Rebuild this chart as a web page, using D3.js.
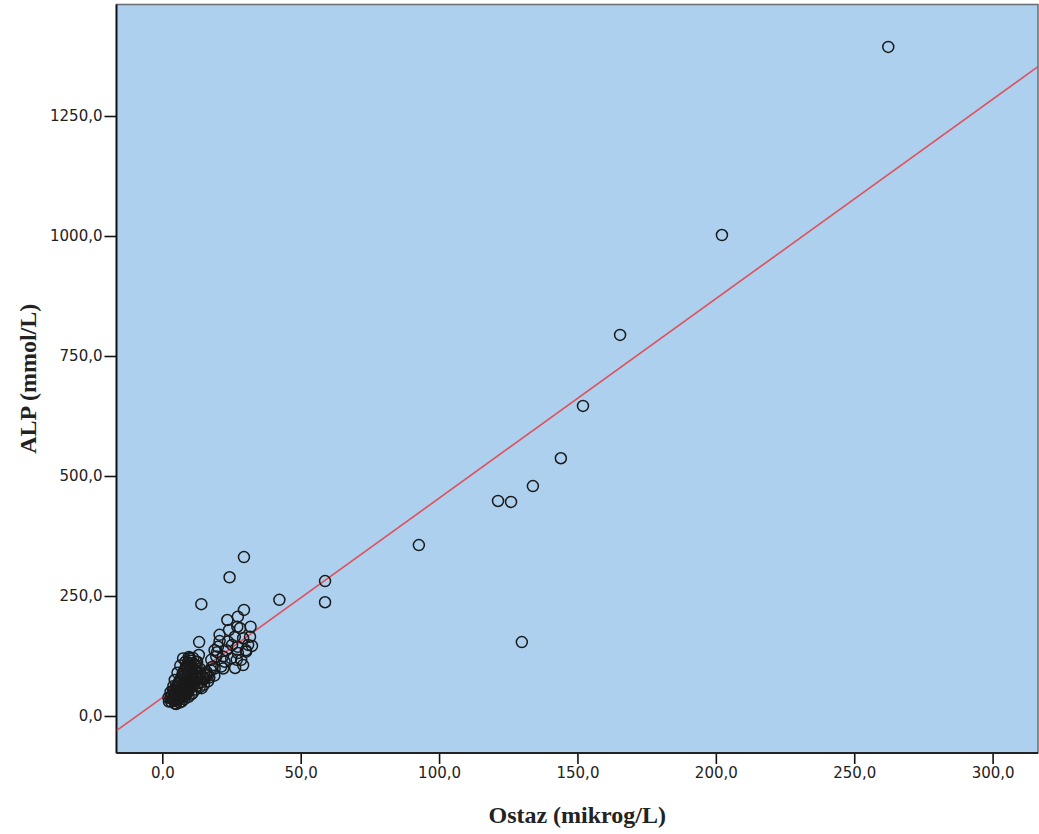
<!DOCTYPE html>
<html>
<head>
<meta charset="utf-8">
<script src="https://cdn.jsdelivr.net/npm/d3@7"></script>
<style>
  html, body { margin: 0; padding: 0; background: #ffffff; }
  svg { display: block; }
</style>
</head>
<body>
<svg id="chart" width="1039" height="834"></svg>
<script>
// Ostaz (µg/L) against ALP (mmol/L), one circle per sample
const ostaz = [
  // isolated high values
  262.3, 202.2, 165.4, 152.0, 144.0, 133.9, 121.3, 126.0, 92.7, 129.9,
  58.8, 58.8, 42.3, 29.5, 24.3, 14.1,
  // second group, roughly 18-32
  29.5, 27.3, 23.5, 31.9, 27.1, 20.7, 26.2, 29.2, 23.7, 20.7,
  31.0, 20.1, 27.3, 18.9, 30.3, 27.3, 23.1, 24.9, 21.9, 21.3,
  18.9, 22.5, 28.5, 19.5, 17.7, 31.7, 30.2, 26.9, 22.0, 25.2,
  28.1, 24.1, 19.8, 26.3, 29.2, 16.5, 32.4,
  // dense low group
  3.2, 3.8, 4.5, 5.2, 6.0, 4.1, 3.5, 5.0, 6.3, 7.1,
  4.4, 5.6, 6.8, 7.5, 8.2, 3.9, 5.1, 6.2, 7.3, 8.6,
  4.8, 5.9, 6.7, 7.8, 9.0, 5.5, 6.5, 7.4, 8.3, 9.5,
  6.1, 7.0, 7.9, 8.9, 10.1, 6.8, 7.7, 8.5, 9.6, 10.8,
  7.3, 8.2, 9.1, 10.2, 11.4, 8.0, 9.0, 9.8, 10.9, 12.0,
  8.6, 9.6, 10.5, 11.6, 12.7, 9.3, 10.4, 11.3, 12.4, 13.5,
  10.0, 11.1, 12.2, 13.2, 9.6, 12.6, 8.4, 13.3, 13.8, 14.6,
  15.8, 16.2, 17.5, 18.0, 11.8, 10.6, 9.4, 12.9, 13.6, 14.9,
  5.7, 4.2, 7.9, 6.4, 8.8, 9.9, 10.7, 11.9, 7.6, 5.3,
  2.4, 4.6, 3.0, 6.9, 10.0,
  12.0, 13.5, 15.0, 16.5, 14.0, 11.0, 9.5, 8.0, 7.0, 10.5,
  12.5, 15.5, 17.0, 16.0, 14.2, 4.5, 5.5, 6.5, 7.5, 4.0,
  3.0, 2.2, 18.8, 13.0, 11.5, 8.8, 6.2, 5.0, 9.2, 10.8
];
const alp = [
  1394, 1002, 794, 646, 537, 479, 448, 446, 356, 154,
  281, 237, 242, 331, 289, 233,
  221, 207, 200, 186, 186, 169, 165, 162, 155, 156,
  148, 144, 144, 137, 134, 131, 137, 120, 124, 103,
  99, 113, 117, 124, 117, 165, 137, 117, 99, 148,
  183, 179, 133, 100, 106, 85, 146,
  30, 34, 31, 33, 36, 40, 44, 42, 40, 38,
  48, 47, 45, 44, 42, 52, 55, 52, 50, 48,
  60, 62, 58, 56, 54, 66, 68, 64, 61, 59,
  72, 75, 70, 67, 64, 80, 83, 78, 74, 70,
  88, 92, 86, 82, 78, 96, 100, 94, 90, 85,
  104, 108, 102, 97, 92, 112, 115, 108, 104, 99,
  119, 121, 113, 127, 123, 113, 113, 154, 88, 82,
  86, 89, 95, 102, 72, 60, 50, 68, 76, 79,
  38, 36, 48, 55, 58, 70, 84, 95, 66, 50,
  30, 26, 38, 44, 121,
  55, 60, 65, 72, 70, 48, 40, 35, 30, 45,
  62, 78, 80, 92, 58, 75, 90, 105, 120, 62,
  50, 38, 84, 82, 74, 46, 28, 25, 52, 66
];

// Linear fit: ALP = intercept + slope * Ostaz
const fitCoef = [38.2, 4.155];

const xTicks = [0, 50, 100, 150, 200, 250, 300];
const yTicks = [0, 250, 500, 750, 1000, 1250];
const xTitle = "Ostaz (mikrog/L)";
const yTitle = "ALP (mmol/L)";

const plot = { left: 116.5, top: 4.5, right: 1038, bottom: 753 };

const x = d3.scaleLinear().domain([-16.55, 316.4]).range([plot.left, plot.right]);
const y = d3.scaleLinear().domain([-77.1, 1482.3]).range([plot.bottom, plot.top]);

const fmt = d => d3.format(".1f")(d).replace(".", ",");

const svg = d3.select("#chart");

// plot background and frame
svg.append("rect")
  .attr("x", plot.left).attr("y", plot.top)
  .attr("width", plot.right - plot.left).attr("height", plot.bottom - plot.top)
  .attr("fill", "#acd0ee")
  .attr("stroke", "#6d7278").attr("stroke-width", 1.6);

svg.append("clipPath").attr("id", "plotClip")
  .append("rect")
  .attr("x", plot.left).attr("y", plot.top)
  .attr("width", plot.right - plot.left).attr("height", plot.bottom - plot.top);

// axes
const yAxis = svg.append("g")
  .attr("transform", `translate(${plot.left},0)`)
  .call(d3.axisLeft(y).tickValues(yTicks).tickFormat(fmt).tickSize(12).tickPadding(2));
const xAxis = svg.append("g")
  .attr("transform", `translate(0,${plot.bottom})`)
  .call(d3.axisBottom(x).tickValues(xTicks).tickFormat(fmt).tickSize(11).tickPadding(3));

[xAxis, yAxis].forEach(g => {
  g.select(".domain").remove();
  g.selectAll(".tick line").attr("stroke", "#111").attr("stroke-width", 1.6);
  g.selectAll(".tick text")
    .attr("fill", "#222")
    .style("font-family", "'DejaVu Sans', sans-serif")
    .style("font-size", "15px");
});

// left and bottom axis lines
svg.append("line")
  .attr("x1", plot.left).attr("x2", plot.left)
  .attr("y1", plot.top).attr("y2", plot.bottom)
  .attr("stroke", "#111").attr("stroke-width", 1.8);
svg.append("line")
  .attr("x1", plot.left).attr("x2", plot.right)
  .attr("y1", plot.bottom).attr("y2", plot.bottom)
  .attr("stroke", "#222").attr("stroke-width", 1.8);

const inner = svg.append("g").attr("clip-path", "url(#plotClip)");

// fit line across the full x range
const xd = x.domain();
inner.append("line")
  .attr("x1", x(xd[0])).attr("y1", y(fitCoef[0] + fitCoef[1] * xd[0]))
  .attr("x2", x(xd[1])).attr("y2", y(fitCoef[0] + fitCoef[1] * xd[1]))
  .attr("stroke", "#e0505a").attr("stroke-width", 1.6);

// observations
inner.selectAll("circle.obs")
  .data(d3.range(ostaz.length))
  .join("circle")
  .attr("class", "obs")
  .attr("cx", i => x(ostaz[i]))
  .attr("cy", i => y(alp[i]))
  .attr("r", 5.5)
  .attr("fill", "none")
  .attr("stroke", "#1a1a1a")
  .attr("stroke-width", 1.5);

// axis titles
svg.append("text")
  .attr("x", (plot.left + plot.right) / 2)
  .attr("y", 823)
  .attr("text-anchor", "middle")
  .style("font-family", "'Liberation Serif', 'Times New Roman', serif")
  .style("font-weight", "bold")
  .style("font-size", "24px")
  .attr("fill", "#222")
  .text(xTitle);

svg.append("text")
  .attr("transform", `translate(36,${(plot.top + plot.bottom) / 2}) rotate(-90)`)
  .attr("text-anchor", "middle")
  .style("font-family", "'Liberation Serif', 'Times New Roman', serif")
  .style("font-weight", "bold")
  .style("font-size", "24px")
  .attr("fill", "#222")
  .text(yTitle);
</script>
</body>
</html>
